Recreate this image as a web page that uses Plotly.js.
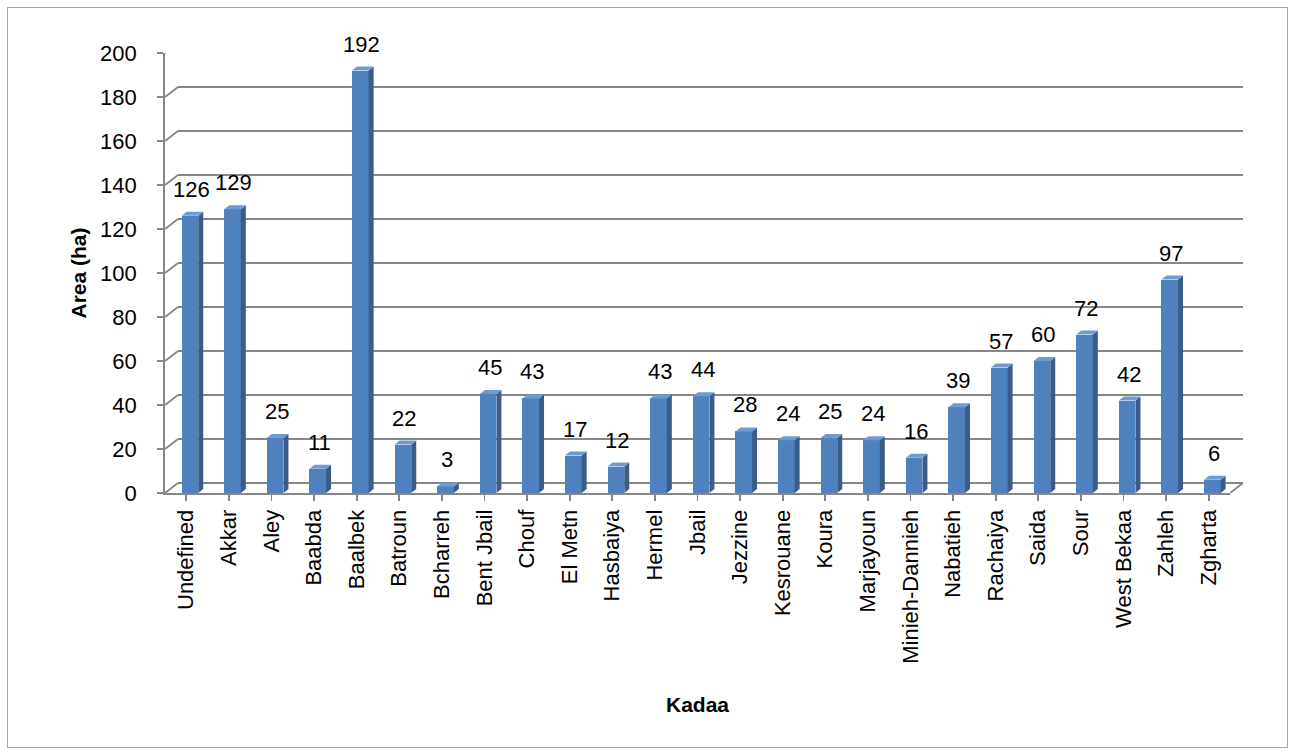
<!DOCTYPE html>
<html>
<head>
<meta charset="utf-8">
<script src="https://cdn.plot.ly/plotly-3.0.1.min.js"></script>
<style>
  html, body { margin: 0; padding: 0; background: #ffffff; }
  #wrap { position: relative; width: 1294px; height: 753px; }
  #chart { width: 1294px; height: 753px; }
  #frame { position: absolute; left: 7px; top: 7px; width: 1279px; height: 739px;
           border: 1px solid #a6a6a6; pointer-events: none; }
</style>
</head>
<body>
<div id="wrap"><div id="chart"></div><div id="frame"></div></div>
<script>
// ---- data ----
const categories = ["Undefined", "Akkar", "Aley", "Baabda", "Baalbek", "Batroun", "Bcharreh",
  "Bent Jbail", "Chouf", "El Metn", "Hasbaiya", "Hermel", "Jbail", "Jezzine", "Kesrouane",
  "Koura", "Marjayoun", "Minieh-Dannieh", "Nabatieh", "Rachaiya", "Saida", "Sour",
  "West Bekaa", "Zahleh", "Zgharta"];
const areaHa = [126, 129, 25, 11, 192, 22, 3, 45, 43, 17, 12, 43, 44, 28, 24, 25, 24, 16,
  39, 57, 60, 72, 42, 97, 6];
const yTicks = [0, 20, 40, 60, 80, 100, 120, 140, 160, 180, 200];

// ---- style ----
const FRONT = "#4f81bd", SIDE = "#385d8a", TOP = "#6f9bd3";
const GRID = "#878787";
const FONT = "Liberation Sans, Arial, sans-serif";
const W = 1294, H = 753;
const M = {l: 165, r: 51, t: 43, b: 260};
const plotW = W - M.l - M.r, plotH = H - M.t - M.b;
const DX = 13, DY = 10;               // back-wall depth in px
const BAR_OFF = -0.11, BAR_W = 0.39;  // front face of bar (category units)
const BDX = 5, BDY = 4;               // bar depth in px
const catPx = (plotW - DX) / categories.length;
const pxPerUnit = (plotH - DY) / 200;
const LW = 1.9;

const shapes = [];
// back-wall gridlines + diagonal connectors
yTicks.forEach(v => {
  shapes.push({type: "line", layer: "below", xref: "paper", x0: DX / plotW, x1: 1,
    yref: "y", ysizemode: "pixel", yanchor: v, y0: DY, y1: DY,
    line: {color: GRID, width: LW}});
  shapes.push({type: "line", layer: "below", xref: "paper", xsizemode: "pixel", xanchor: 0,
    x0: 0, x1: DX, yref: "y", ysizemode: "pixel", yanchor: v, y0: 0, y1: DY,
    line: {color: GRID, width: LW}});
});
// floor right edge diagonal
shapes.push({type: "line", layer: "below", xref: "paper", xsizemode: "pixel",
  xanchor: (plotW - DX) / plotW, x0: 0, x1: DX, yref: "y", ysizemode: "pixel", yanchor: 0,
  y0: 0, y1: DY, line: {color: GRID, width: LW}});

// 3D faces of the bars
const L = BAR_OFF * catPx, R = (BAR_OFF + BAR_W) * catPx, dU = BDY / pxPerUnit;
areaHa.forEach((v, i) => {
  shapes.push({type: "path", layer: "above", xref: "x", xsizemode: "pixel", xanchor: i,
    yref: "y",
    path: `M${R},0 L${R + BDX},${dU} L${R + BDX},${v + dU} L${R},${v} Z`,
    fillcolor: SIDE, line: {width: 0}});
  shapes.push({type: "path", layer: "above", xref: "x", xsizemode: "pixel", xanchor: i,
    yref: "y",
    path: `M${L},${v} L${L + BDX},${v + dU} L${R + BDX},${v + dU} L${R},${v} Z`,
    fillcolor: TOP, line: {width: 0}});
});

const annotations = areaHa.map((v, i) => ({
  x: i, y: v, xref: "x", yref: "y", text: String(v), showarrow: false,
  xanchor: "center", yanchor: "bottom", xshift: 5, yshift: 12,
  font: {family: FONT, size: 22, color: "#000000"}
}));

const trace = {
  type: "bar", x: categories.map((c, i) => i), y: areaHa,
  width: BAR_W, offset: BAR_OFF,
  marker: {color: FRONT, line: {width: 0}},
  hoverinfo: "x+y"
};

const layout = {
  width: W, height: H,
  margin: M,
  paper_bgcolor: "#ffffff", plot_bgcolor: "rgba(0,0,0,0)",
  showlegend: false,
  bargap: 0,
  xaxis: {
    domain: [0, (plotW - DX) / plotW],
    range: [-0.5, categories.length - 0.5],
    tickmode: "array", tickvals: categories.map((c, i) => i), ticktext: categories,
    tickangle: -90, tickfont: {family: FONT, size: 22, color: "#000000"},
    ticks: "outside", ticklen: 6, tickcolor: GRID, tickwidth: LW,
    showline: true, linecolor: GRID, linewidth: LW,
    showgrid: false, zeroline: false, fixedrange: true,
    title: {text: "<b>Kadaa</b>", font: {family: FONT, size: 21, color: "#000000"}, standoff: 34}
  },
  yaxis: {
    domain: [0, (plotH - DY) / plotH],
    range: [0, 200], tickmode: "array", tickvals: yTicks,
    tickfont: {family: FONT, size: 22, color: "#000000"},
    ticks: "outside", ticklen: 6, tickcolor: GRID, tickwidth: LW,
    showline: true, linecolor: GRID, linewidth: LW,
    showgrid: false, zeroline: false, fixedrange: true,
    ticklabelstandoff: 16,
    title: {text: "<b>Area (ha)</b>", font: {family: FONT, size: 21, color: "#000000"}, standoff: 8}
  },
  shapes: shapes,
  annotations: annotations
};

Plotly.newPlot("chart", [trace], layout, {displayModeBar: false, staticPlot: true});
</script>
</body>
</html>
